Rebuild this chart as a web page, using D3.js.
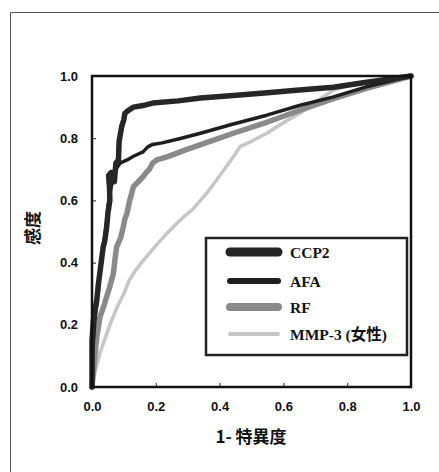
<!DOCTYPE html>
<html lang="ja">
<head>
<meta charset="utf-8">
<title>ROC</title>
<script src="https://d3js.org/d3.v7.min.js"></script>
<style>
  body { margin: 0; background: #fff; }
  .tick text { font-family: "Liberation Sans", Arial, sans-serif; font-weight: bold; font-size: 13px; fill: #111; }
  .legend text { font-family: "Liberation Serif", "Noto Sans CJK JP", serif; font-weight: bold; font-size: 15.5px; fill: #111; }
  .title { font-family: "Noto Sans CJK JP", sans-serif; font-weight: bold; font-size: 17px; fill: #111; }
</style>
</head>
<body>
<script>
// ROC curves: [1-specificity, sensitivity]
const series = ["CCP2", "AFA", "RF", "MMP-3 (女性)"];
const ccp2 = [[0,0],[0,0.15],[0.005,0.22],[0.015,0.28],[0.02,0.33],[0.03,0.41],[0.035,0.45],[0.04,0.47],[0.046,0.515],[0.05,0.56],[0.056,0.6],[0.055,0.64],[0.052,0.68],[0.06,0.69],[0.065,0.69],[0.07,0.66],[0.075,0.72],[0.083,0.73],[0.085,0.79],[0.093,0.837],[0.1,0.86],[0.103,0.88],[0.115,0.89],[0.13,0.9],[0.16,0.905],[0.19,0.913],[0.27,0.92],[0.34,0.929],[0.443,0.937],[0.55,0.946],[0.65,0.955],[0.757,0.964],[0.85,0.978],[0.913,0.987],[1,1]];
const afa = [[0,0],[0.003,0.12],[0.008,0.2],[0.015,0.27],[0.02,0.33],[0.03,0.4],[0.037,0.46],[0.045,0.52],[0.05,0.58],[0.058,0.63],[0.065,0.67],[0.075,0.7],[0.088,0.72],[0.11,0.73],[0.13,0.742],[0.16,0.756],[0.175,0.772],[0.19,0.78],[0.22,0.785],[0.28,0.8],[0.34,0.816],[0.44,0.845],[0.548,0.874],[0.65,0.905],[0.757,0.933],[0.86,0.965],[1,1]];
const rf = [[0,0],[0.008,0.09],[0.015,0.16],[0.025,0.225],[0.04,0.27],[0.055,0.32],[0.067,0.365],[0.072,0.41],[0.077,0.45],[0.09,0.48],[0.098,0.515],[0.103,0.54],[0.11,0.56],[0.118,0.6],[0.13,0.644],[0.145,0.66],[0.16,0.676],[0.17,0.69],[0.18,0.7],[0.19,0.72],[0.203,0.73],[0.235,0.74],[0.3,0.765],[0.37,0.79],[0.443,0.816],[0.55,0.852],[0.652,0.89],[0.75,0.925],[0.86,0.96],[1,1]];
const mmp3 = [[0,0],[0.01,0.05],[0.025,0.11],[0.046,0.17],[0.06,0.21],[0.08,0.26],[0.1,0.3],[0.115,0.34],[0.13,0.365],[0.155,0.4],[0.18,0.43],[0.205,0.46],[0.234,0.493],[0.26,0.52],[0.287,0.547],[0.315,0.57],[0.34,0.6],[0.365,0.63],[0.39,0.665],[0.415,0.7],[0.443,0.74],[0.464,0.773],[0.5,0.79],[0.548,0.816],[0.6,0.85],[0.652,0.88],[0.7,0.915],[0.757,0.955],[0.81,0.97],[0.9,0.985],[1,1]];
const ticks = [0, 0.2, 0.4, 0.6, 0.8, 1.0];

const curves = [
  { name: series[3], data: mmp3, color: "#c6c6c6", w: 3.5, lw: 4 },
  { name: series[2], data: rf, color: "#8a8a8a", w: 5.5, lw: 8 },
  { name: series[1], data: afa, color: "#1e1e1e", w: 3.5, lw: 6 },
  { name: series[0], data: ccp2, color: "#262626", w: 5.5, lw: 9 }
];

const width = 439, height = 472;
const margin = { top: 76, left: 92 };
const innerW = 411 - 92, innerH = 387 - 76;

const svg = d3.select("body").append("svg").attr("width", width).attr("height", height);
// outer frame (top and left edges only)
svg.append("path").attr("d", `M10.5,${height}V12.5H${width}`)
  .attr("fill", "none").attr("stroke", "#555").attr("stroke-width", 1);

const g = svg.append("g").attr("transform", `translate(${margin.left},${margin.top})`);
const x = d3.scaleLinear().domain([0, 1]).range([0, innerW]);
const y = d3.scaleLinear().domain([0, 1]).range([innerH, 0]);

const xAxis = g.append("g").attr("transform", `translate(0,${innerH})`)
  .call(d3.axisBottom(x).tickValues(ticks).tickFormat(d3.format(".1f")).tickSize(-4).tickPadding(15));
const yAxis = g.append("g")
  .call(d3.axisLeft(y).tickValues(ticks).tickFormat(d3.format(".1f")).tickSize(-4).tickPadding(14));
[xAxis, yAxis].forEach(a => {
  a.select(".domain").remove();
  a.selectAll(".tick line").attr("stroke", "#222").attr("stroke-width", 1);
});

const line = d3.line().x(d => x(d[0])).y(d => y(d[1]));
curves.forEach(c => {
  g.append("path").datum(c.data).attr("d", line)
    .attr("fill", "none").attr("stroke", c.color).attr("stroke-width", c.w)
    .attr("stroke-linejoin", "round").attr("stroke-linecap", "round");
});

// plot frame
g.append("rect").attr("width", innerW).attr("height", innerH)
  .attr("fill", "none").attr("stroke", "#111").attr("stroke-width", 2.5);

// legend
const lg = g.append("g").attr("class", "legend").attr("transform", `translate(${206 - margin.left},${238 - margin.top})`);
lg.append("rect").attr("width", 201).attr("height", 117).attr("fill", "#fff")
  .attr("stroke", "#222").attr("stroke-width", 2.5);
const rows = curves.slice().reverse();
const rowY = [14, 43, 69, 96];
rows.forEach((c, i) => {
  lg.append("line").attr("x1", 24).attr("x2", 72).attr("y1", rowY[i]).attr("y2", rowY[i])
    .attr("stroke", c.color).attr("stroke-width", c.lw).attr("stroke-linecap", "round");
  lg.append("text").attr("x", 84).attr("y", rowY[i] + 6).text(c.name);
});

// axis titles
svg.append("text").attr("class", "title").attr("x", 251).attr("y", 443)
  .attr("text-anchor", "middle").text("1- 特異度");
svg.append("text").attr("class", "title").attr("text-anchor", "middle")
  .attr("transform", "translate(39,228) rotate(-90)").text("感度");
</script>
</body>
</html>
